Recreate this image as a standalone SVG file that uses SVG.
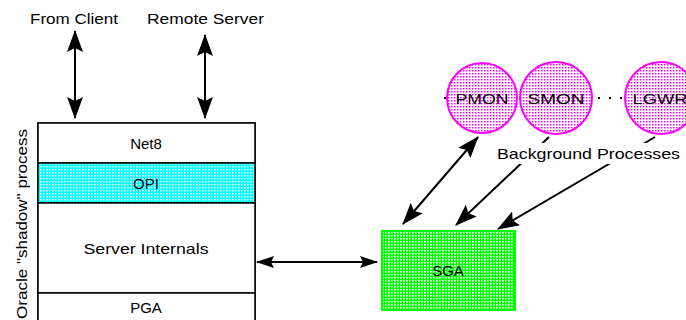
<svg xmlns="http://www.w3.org/2000/svg" width="686" height="320" viewBox="0 0 686 320">
<style>
text{font-family:"Liberation Sans",Arial,sans-serif;font-size:15px;fill:#000}
.c{text-anchor:middle}
.ln{stroke:#000;stroke-width:2;fill:none}
</style>
<defs>
<pattern id="pc" width="3" height="3" patternUnits="userSpaceOnUse"><rect width="3" height="3" fill="#00ffff"/><rect x="1" y="1" width="1.5" height="1.5" fill="#ffffff"/></pattern>
<pattern id="pg" width="3" height="3" patternUnits="userSpaceOnUse"><rect width="3" height="3" fill="#00ff00"/><rect x="1" y="1" width="1.6" height="1.6" fill="#ffffff"/></pattern>
<pattern id="pm" width="3" height="3" patternUnits="userSpaceOnUse"><rect width="3" height="3" fill="#ffffff"/><rect x="1" y="1" width="1.5" height="1.5" fill="#ff00ff"/></pattern>
<marker id="ah" viewBox="0 0 22 16" refX="21" refY="8" markerWidth="22" markerHeight="16" markerUnits="userSpaceOnUse" orient="auto-start-reverse"><path d="M0,0 L22,8 L0,16 L4,8 z" fill="#000"/></marker>
<marker id="as" viewBox="0 0 18 12" refX="17" refY="6" markerWidth="18" markerHeight="12" markerUnits="userSpaceOnUse" orient="auto-start-reverse"><path d="M0,0 L18,6 L0,12 L3,6 z" fill="#000"/></marker>
</defs>

<g id="labels-top">
<text x="30" y="24" textLength="88" lengthAdjust="spacingAndGlyphs">From Client</text>
<text x="147" y="24" textLength="117" lengthAdjust="spacingAndGlyphs">Remote Server</text>
</g>

<g id="shadow-process">
<rect x="38" y="123" width="217" height="210" fill="#fff" stroke="#000" stroke-width="1.5"/>
<g id="net8"><rect x="38" y="123" width="217" height="40" fill="#fff" stroke="#000" stroke-width="1.5"/><text class="c" x="146" y="149">Net8</text></g>
<g id="opi"><rect x="38" y="163" width="217" height="40" fill="url(#pc)" stroke="#000" stroke-width="1.5"/><text class="c" x="146" y="189">OPI</text></g>
<g id="server-internals"><rect x="38" y="203" width="217" height="90" fill="#fff" stroke="#000" stroke-width="1.5"/><text class="c" x="146" y="254" textLength="125" lengthAdjust="spacingAndGlyphs">Server Internals</text></g>
<g id="pga"><rect x="38" y="293" width="217" height="40" fill="#fff" stroke="#000" stroke-width="1.5"/><text class="c" x="146" y="313">PGA</text></g>
<text class="c" transform="translate(27,224) rotate(-90)" textLength="190" lengthAdjust="spacingAndGlyphs">Oracle "shadow" process</text>
</g>

<g id="sga"><rect x="382" y="231" width="133" height="79" fill="url(#pg)" stroke="#00ff00" stroke-width="2"/><text class="c" x="448" y="276">SGA</text></g>

<g id="background-processes">
<line x1="444" y1="98" x2="628" y2="98" stroke="#000" stroke-width="2" stroke-dasharray="2,9"/>
<g id="pmon"><circle cx="482" cy="98" r="35" fill="url(#pm)" stroke="#ff00ff" stroke-width="2"/><text class="c" x="482" y="104" textLength="53" lengthAdjust="spacingAndGlyphs">PMON</text></g>
<g id="smon"><circle cx="556" cy="98" r="36" fill="url(#pm)" stroke="#ff00ff" stroke-width="2"/><text class="c" x="556" y="104" textLength="57" lengthAdjust="spacingAndGlyphs">SMON</text></g>
<g id="lgwr"><circle cx="661" cy="98" r="36" fill="url(#pm)" stroke="#ff00ff" stroke-width="2"/><text class="c" x="660" y="104" textLength="55" lengthAdjust="spacingAndGlyphs">LGWR</text></g>
</g>

<g id="connectors">
<line class="ln" x1="75" y1="31" x2="75" y2="118" marker-start="url(#ah)" marker-end="url(#ah)"/>
<line class="ln" x1="205" y1="35" x2="205" y2="118" marker-start="url(#ah)" marker-end="url(#ah)"/>
<line class="ln" x1="257" y1="262" x2="377" y2="262" stroke-width="2.5" marker-start="url(#as)" marker-end="url(#as)"/>
<line class="ln" x1="478" y1="137" x2="403" y2="224" marker-start="url(#ah)" marker-end="url(#ah)"/>
<line class="ln" x1="549" y1="137" x2="456" y2="225" stroke-width="2.5" marker-end="url(#ah)"/>
<line class="ln" x1="655" y1="137" x2="498" y2="229" marker-end="url(#ah)"/>
</g>

<g id="bg-label">
<rect x="495" y="143" width="188" height="21" fill="#fff"/>
<text x="497" y="159" textLength="183" lengthAdjust="spacingAndGlyphs">Background Processes</text>
</g>
</svg>
